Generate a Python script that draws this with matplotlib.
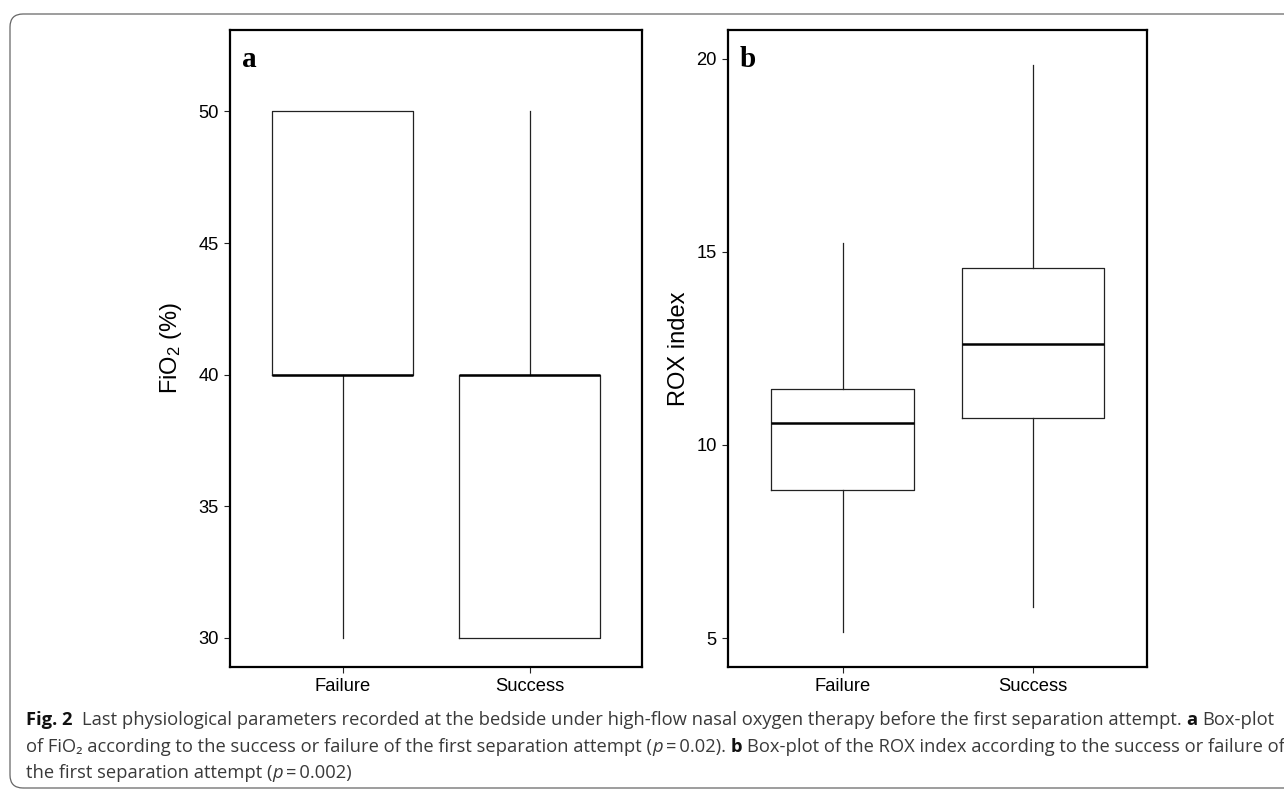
import matplotlib
matplotlib.use("Agg")
import matplotlib.pyplot as plt
from matplotlib.patches import FancyBboxPatch

# ---- data ----
groups = ["Failure", "Success"]

# panel a: FiO2 (%)
fio2_whislo = [30, 30]
fio2_q1 = [40, 30]
fio2_med = [40, 40]
fio2_q3 = [50, 40]
fio2_whishi = [50, 50]

# panel b: ROX index
rox_whislo = [5.16, 5.81]
rox_q1 = [8.84, 10.71]
rox_med = [10.56, 12.61]
rox_q3 = [11.44, 14.57]
rox_whishi = [15.23, 19.83]

fio2_ticks = [30, 35, 40, 45, 50]
rox_ticks = [5, 10, 15, 20]

plt.rcParams["font.family"] = ["Liberation Sans", "DejaVu Sans"]
plt.rcParams["mathtext.fontset"] = "custom"
plt.rcParams["mathtext.rm"] = "Liberation Sans"
plt.rcParams["mathtext.it"] = "Liberation Sans:italic"

W, H = 1284, 792
fig = plt.figure(figsize=(W / 100, H / 100), dpi=100)

# rounded card frame, open to the right edge
frame = FancyBboxPatch((0.10, 0.04), 13.3, 7.74,
                       boxstyle="round,pad=0,rounding_size=0.13",
                       transform=fig.dpi_scale_trans, fc="none",
                       ec="#666666", lw=0.9)
fig.add_artist(frame)


def stats(lo, q1, med, q3, hi):
    return [dict(whislo=lo[i], q1=q1[i], med=med[i], q3=q3[i], whishi=hi[i],
                 fliers=[], label=groups[i]) for i in range(len(groups))]


def panel(rect, st, ylim, ticks, ylabel, label_x, letter):
    ax = fig.add_axes(rect)
    ax.bxp(st, positions=[1, 2], widths=0.75, showcaps=False, showfliers=False,
           boxprops=dict(color="#222222", lw=0.9),
           whiskerprops=dict(color="#222222", lw=0.9),
           medianprops=dict(color="black", lw=1.8))
    ax.set_xlim(0.4, 2.6)
    ax.set_ylim(*ylim)
    ax.set_yticks(ticks)
    ax.set_xticks([1, 2])
    ax.set_xticklabels(groups)
    for s in ax.spines.values():
        s.set_linewidth(1.6)
        s.set_color("black")
    ax.tick_params(axis="both", length=4.3, width=0.8, labelsize=13.2, color="#222222")
    ax.tick_params(axis="y", pad=4.0)
    ax.tick_params(axis="x", pad=4.0)
    ax.set_ylabel(ylabel, fontsize=17)
    ax.yaxis.set_label_coords(label_x, 0.5)
    ax.text(0.028, 0.942, letter, transform=ax.transAxes, fontsize=21,
            fontweight="bold", family="Liberation Serif", va="baseline", ha="left")
    return ax


ax_a = panel([230.3 / W, 1 - 666.7 / H, 411.4 / W, 636.7 / H],
             stats(fio2_whislo, fio2_q1, fio2_med, fio2_q3, fio2_whishi),
             (28.91, 53.09), fio2_ticks, r"FiO$_2$ (%)", -0.112, "a")
ax_b = panel([728.3 / W, 1 - 666.7 / H, 419.0 / W, 636.7 / H],
             stats(rox_whislo, rox_q1, rox_med, rox_q3, rox_whishi),
             (4.26, 20.74), rox_ticks, "ROX index", -0.092, "b")

# ---- caption, drawn as runs of text so bold / italic pieces sit inline ----
R, B, I = "normal", "bold", "italic"
caption = [
    [("Fig. 2", B), ("", R), ("Last physiological parameters recorded at the bedside under high-flow nasal oxygen therapy before the first separation attempt.", R), ("a", B), ("Box-plot", R)],
    [("of FiO\u2082 according to the success or failure of the first separation attempt (", R), ("p", I), ("\u2009=\u20090.02).", R), ("b", B), ("Box-plot of the ROX index according to the success or failure of", R)],
    [("the first separation attempt (", R), ("p", I), ("\u2009=\u20090.002)", R)],
]
baselines = [725, 752, 778]
cap_fam = ["Open Sans", "DejaVu Sans"]
renderer = fig.canvas.get_renderer()


def run_width(s, kind, size):
    t = fig.text(0, 0, s, fontsize=size, family=cap_fam,
                 fontweight="bold" if kind == B else "normal",
                 fontstyle="italic" if kind == I else "normal")
    w = t.get_window_extent(renderer).width if s else 0.0
    t.remove()
    return w


def space_width(size):
    return run_width("a a", R, size) - run_width("aa", R, size)


def needs_space(line, j):
    s = line[j][0]
    if j == len(line) - 1 or s.endswith("("):
        return False
    nxt_s, nxt_k = line[j + 1]
    return nxt_k != I and not nxt_s.startswith("\u2009")


def line_width(line, size):
    sp = space_width(size)
    w = 0.0
    for j, (s, k) in enumerate(line):
        w += run_width(s, k, size)
        if needs_space(line, j):
            w += sp
    return w


size = 13.0
size = size * (1240.0 / line_width(caption[0], size))
sp = space_width(size)
for line, yb in zip(caption, baselines):
    x = 26.0
    for j, (s, k) in enumerate(line):
        if s:
            fig.text(x / W, 1 - yb / H, s, fontsize=size, family=cap_fam, va="baseline",
                     color="#111111" if k == B else "#3a3a3a",
                     fontweight="bold" if k == B else "normal",
                     fontstyle="italic" if k == I else "normal")
        x += run_width(s, k, size)
        if needs_space(line, j):
            x += sp

fig.savefig("out.png", dpi=100)
